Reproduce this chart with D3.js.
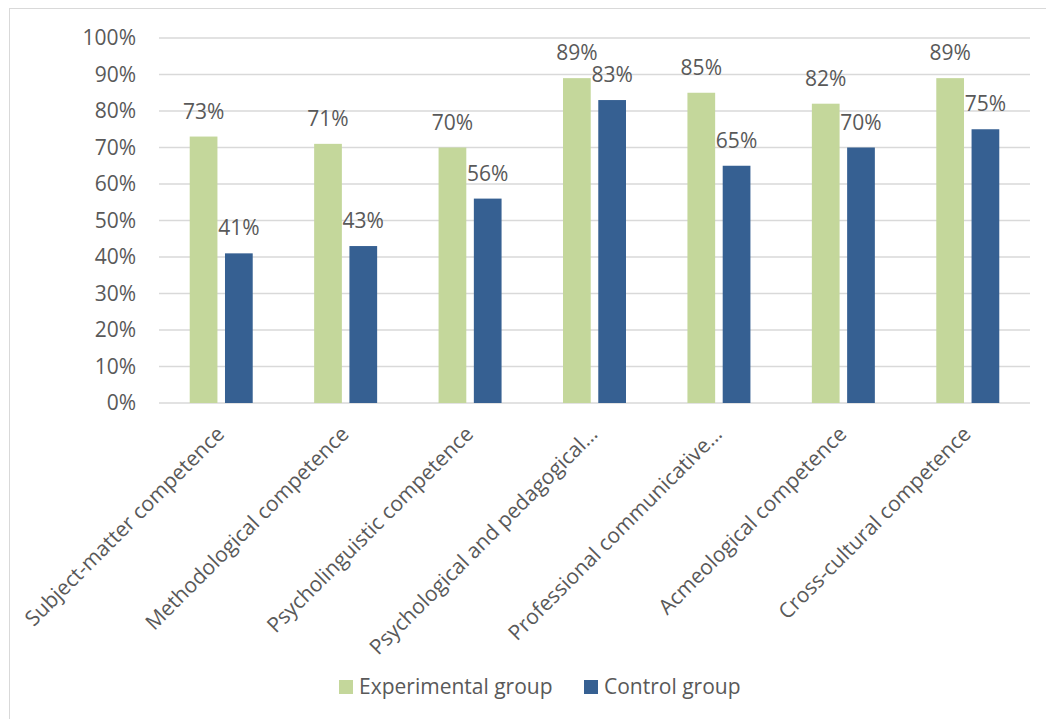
<!DOCTYPE html>
<html>
<head>
<meta charset="utf-8">
<script src="https://cdn.jsdelivr.net/npm/d3@7"></script>
<style>
  body { margin: 0; background: #fff; }
  text { font-family: "Open Sans", sans-serif; fill: #595959; }
</style>
</head>
<body>
<div id="chart"></div>
<script>
// data
var categories = [
  "Subject-matter competence",
  "Methodological competence",
  "Psycholinguistic competence",
  "Psychological and pedagogical…",
  "Professional communicative…",
  "Acmeological competence",
  "Cross-cultural competence"
];
var seriesNames = ["Experimental group", "Control group"];
var experimental = [73, 71, 70, 89, 85, 82, 89];
var control = [41, 43, 56, 83, 65, 70, 75];
var yTicks = [0, 10, 20, 30, 40, 50, 60, 70, 80, 90, 100];

var colors = ["#c4d79b", "#366092"];
var fs = 21;

// svg container
var width = 1046, height = 719;
var plot = { left: 159, right: 1030, top: 38, bottom: 403 };

var svg = d3.select("#chart").append("svg")
    .attr("width", width)
    .attr("height", height);

// outer frame (only top/left fall inside the picture)
svg.append("rect")
    .attr("x", 9.5).attr("y", 8.5)
    .attr("width", 1060).attr("height", 740)
    .attr("fill", "none")
    .attr("stroke", "#d9d9d9");

var x0 = d3.scaleBand()
    .domain(categories)
    .range([plot.left, plot.right])
    .padding(0);

var groupW = 63;
var x1 = d3.scaleBand()
    .domain(seriesNames)
    .range([0, groupW])
    .paddingInner(0.214);

var y = d3.scaleLinear()
    .domain([0, 100])
    .range([plot.bottom, plot.top]);

// gridlines
svg.append("g")
  .selectAll("line")
  .data(yTicks)
  .join("line")
    .attr("x1", plot.left).attr("x2", plot.right)
    .attr("y1", d => y(d)).attr("y2", d => y(d))
    .attr("stroke", "#d9d9d9")
    .attr("stroke-width", 1.3);

// y axis labels
var yAxis = d3.axisLeft(y).tickValues(yTicks).tickFormat(d => d + "%").tickSize(0).tickPadding(23);
var yg = svg.append("g").attr("transform", `translate(${plot.left},0)`).call(yAxis);
yg.select(".domain").remove();
yg.selectAll("text")
    .attr("font-size", fs)
    .attr("font-family", "Open Sans")
    .attr("fill", "#595959");

// bars
var rows = categories.map((c, i) => ({ cat: c, vals: [experimental[i], control[i]] }));

var groups = svg.append("g")
  .selectAll("g")
  .data(rows)
  .join("g")
    .attr("transform", d => `translate(${x0(d.cat) + x0.bandwidth() / 2 - groupW / 2},0)`);

groups.selectAll("rect")
  .data(d => d.vals.map((v, j) => ({ name: seriesNames[j], v: v, j: j })))
  .join("rect")
    .attr("x", d => x1(d.name))
    .attr("y", d => y(d.v))
    .attr("width", x1.bandwidth())
    .attr("height", d => y(0) - y(d.v))
    .attr("fill", d => colors[d.j]);

groups.selectAll("text")
  .data(d => d.vals.map((v, j) => ({ name: seriesNames[j], v: v, j: j })))
  .join("text")
    .attr("x", d => x1(d.name) + x1.bandwidth() / 2)
    .attr("y", d => y(d.v) - 18)
    .attr("text-anchor", "middle")
    .attr("font-size", fs)
    .text(d => d.v + "%");

// category labels
svg.append("g")
  .selectAll("text")
  .data(categories)
  .join("text")
    .attr("transform", d => `translate(${x0(d) + x0.bandwidth() / 2 - 6},${plot.bottom + 22}) rotate(-45)`)
    .attr("text-anchor", "end")
    .attr("dy", "0.7em")
    .attr("font-size", fs)
    .text(d => d);

// legend
var legend = svg.append("g").attr("transform", "translate(339,680)");
var lx = [0, 245];
seriesNames.forEach(function(name, i) {
  var g = legend.append("g").attr("transform", `translate(${lx[i]},0)`);
  g.append("rect").attr("width", 14).attr("height", 14).attr("fill", colors[i]);
  g.append("text").attr("x", 20).attr("y", 14).attr("font-size", fs).text(name);
});
</script>
</body>
</html>
